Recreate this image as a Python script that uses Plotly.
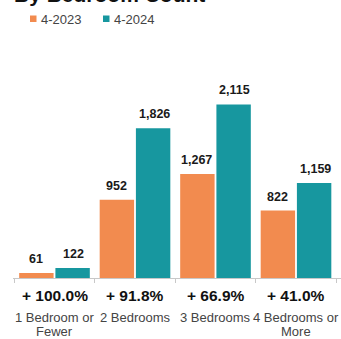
import plotly.graph_objects as go

# Rental listings by bedroom count, April 2023 vs April 2024
categories = ["1 Bedroom or<br>Fewer", "2 Bedrooms", "3 Bedrooms", "4 Bedrooms or<br>More"]
series_names = ["4-2023", "4-2024"]
values_2023 = [61, 952, 1267, 822]
values_2024 = [122, 1826, 2115, 1159]
pct_change = ["+ 100.0%", "+ 91.8%", "+ 66.9%", "+ 41.0%"]

ORANGE = "#F28B4F"
TEAL = "#17979F"
FONT = "Liberation Sans, Arial, sans-serif"

fig = go.Figure()
for name, vals, color in [(series_names[0], values_2023, ORANGE),
                          (series_names[1], values_2024, TEAL)]:
    fig.add_trace(go.Bar(
        x=categories, y=vals, name=name,
        marker=dict(color=color, line=dict(width=0)),
        showlegend=False,
    ))

annotations = []
# value labels above each bar
for vals, dx in [(values_2023, -19), (values_2024, 19)]:
    for cat, v in zip(categories, vals):
        annotations.append(dict(
            x=cat, y=v, xref="x", yref="y", text=f"{v:,}",
            showarrow=False, xshift=dx, yshift=5, yanchor="bottom",
            font=dict(family=FONT, size=12.5, color="#1a1a1a", weight="bold"),
        ))
# percent change and category names under the axis (tight line spacing)
for cat, pct in zip(categories, pct_change):
    annotations.append(dict(
        x=cat, y=0, xref="x", yref="paper", text=pct, showarrow=False,
        yanchor="middle", yshift=-17,
        font=dict(family=FONT, size=15.5, color="#111111", weight="bold"),
    ))
    for i, line in enumerate(cat.split("<br>")):
        annotations.append(dict(
            x=cat, y=0, xref="x", yref="paper", text=line, showarrow=False,
            yanchor="middle", yshift=-39 - 14 * i,
            font=dict(family=FONT, size=13, color="#444444"),
        ))
# title (runs off the top edge)
annotations.append(dict(
    x=0, y=1, xref="paper", yref="paper", text="<b>By Bedroom Count</b>",
    showarrow=False, xanchor="left", yanchor="middle", xshift=-1, yshift=46,
    font=dict(family=FONT, size=21, color="#111111"),
))
# legend
shapes = []
for name, color, px in [(series_names[0], ORANGE, 17), (series_names[1], TEAL, 90)]:
    shapes.append(dict(
        type="rect", xref="paper", yref="paper",
        xsizemode="pixel", ysizemode="pixel", xanchor=0, yanchor=1,
        x0=px, x1=px + 6.5, y0=18, y1=24.5,
        fillcolor=color, line=dict(width=0),
    ))
    annotations.append(dict(
        x=0, y=1, xref="paper", yref="paper", text=name, showarrow=False,
        xanchor="left", yanchor="middle", xshift=px + 9, yshift=21,
        font=dict(family=FONT, size=13, color="#444444"),
    ))

fig.update_layout(
    width=341, height=339,
    margin=dict(l=13, r=0, t=40, b=61),
    paper_bgcolor="white", plot_bgcolor="white",
    barmode="group", bargap=0.1, bargroupgap=0.05,
    annotations=annotations, shapes=shapes,
    xaxis=dict(
        showticklabels=False, showgrid=False, zeroline=False,
        showline=True, linecolor="#c8c8c8", linewidth=1,
        ticks="outside", tickson="boundaries", ticklen=4,
        tickcolor="#c8c8c8", tickwidth=1,
    ),
    yaxis=dict(range=[0, 2900], visible=False, showgrid=False),
)

fig.write_html("out.html")
